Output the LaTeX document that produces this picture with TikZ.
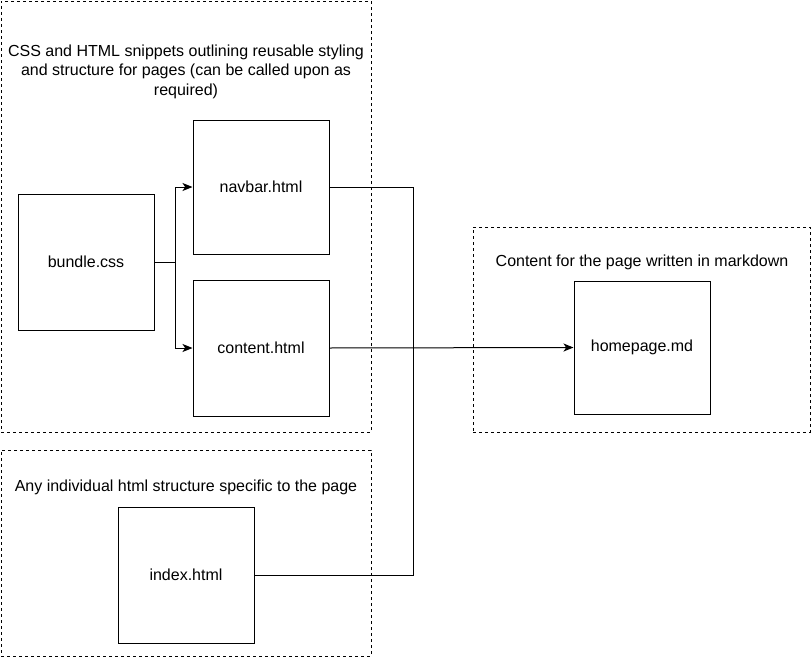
\documentclass[tikz,border=0pt]{standalone}
\usepackage{fontspec}
\setmainfont{Liberation Sans}
\usetikzlibrary{arrows.meta}
\begin{document}
\begin{tikzpicture}[x=0.75pt,y=-0.75pt,line width=0.75pt,
                file/.style={draw,rectangle,minimum width=102pt,minimum height=102pt,font=\fontsize{12}{14.6}\selectfont},
                group/.style={draw,dashed,dash pattern=on 2.25pt off 2.25pt,rectangle,inner sep=0pt},
                caption/.style={align=center,font=\fontsize{12}{14.6}\selectfont},
                connection/.style={-{Stealth[length=7.5pt,width=6pt,inset=2pt]}},
            ]

            \useasboundingbox (0,0) rectangle (811,657);

            % groups
            \node[group,minimum width=277.5pt,minimum height=323.25pt] (snippets) at (186,216.5) {};
            \node[group,minimum width=252.75pt,minimum height=153.75pt] (markdown) at (641.5,329.5) {};
            \node[group,minimum width=277.5pt,minimum height=154.5pt] (specific) at (186,553) {};

            \node[caption] (snippetstext) at (186,71.5) {CSS and HTML snippets outlining reusable styling\\and structure for pages (can be called upon as\\required)};
            \node[caption] (markdowntext) at (642,262) {Content for the page written in markdown};
            \node[caption] (specifictext) at (186,487) {Any individual html structure specific to the page};

            % files
            \node[file] (bundle) at (86,262) {bundle.css};
            \node[file,minimum height=100.5pt] (navbar) at (261,187) {navbar.html};
            \node[file] (content) at (261,348) {content.html};
            \node[file,minimum height=99.75pt] (homepage) at (642,347.5) {homepage.md};
            \node[file] (index) at (186,575) {index.html};

            \coordinate (split) at (175,262);
            \coordinate (joint) at (413,575);

            \draw (bundle.east) -- (split);
            \foreach \target in {navbar,content} {
                \draw[connection] (split) |- (\target.west);
            }
            \draw (navbar.east) -| (joint) -- (index.east);
            \draw[connection] (content.east) -- (homepage.west);
        \end{tikzpicture}
\end{document}
